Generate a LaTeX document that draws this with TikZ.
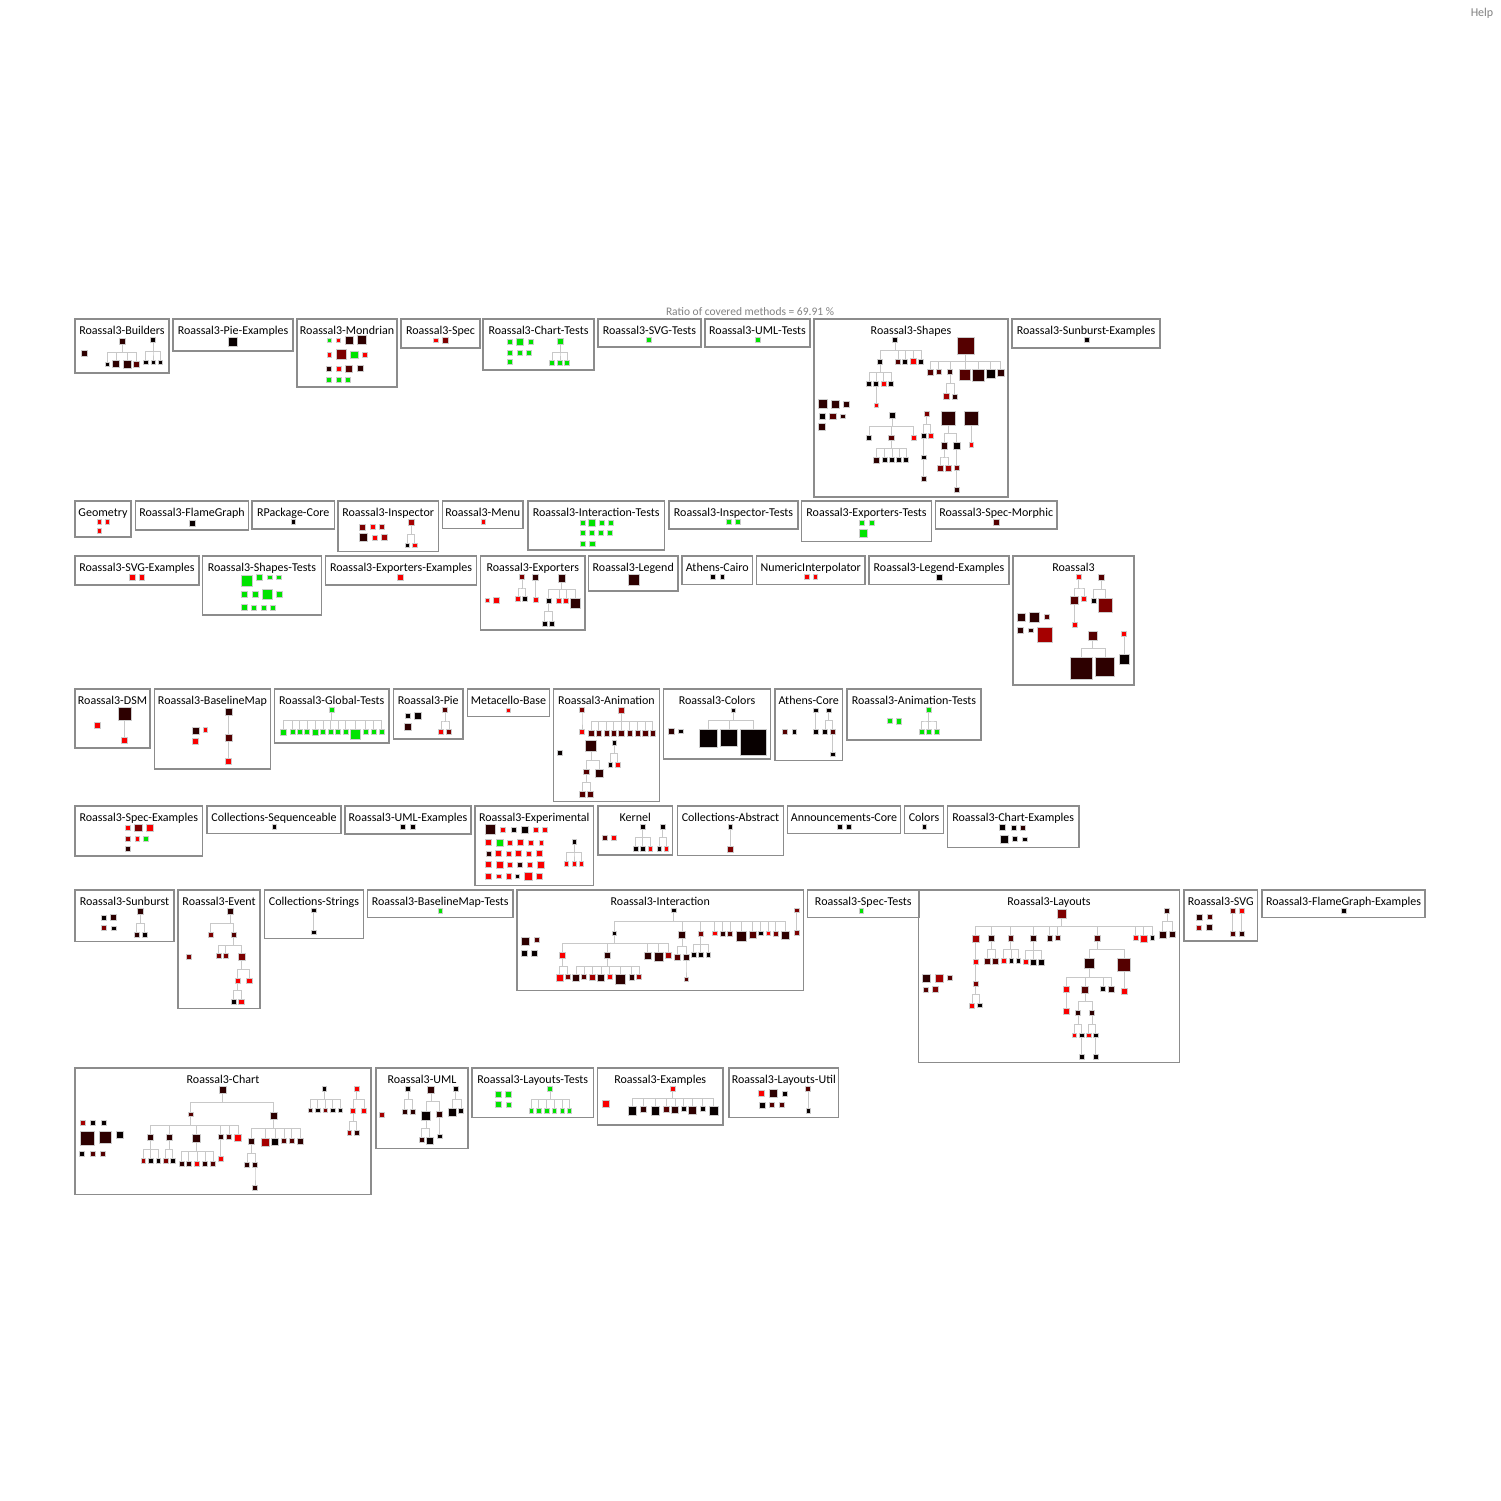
\documentclass[tikz,border=0pt]{standalone}
\usepackage{fontspec}
\setmainfont{Carlito}
\usetikzlibrary{calc,fit,positioning}
\definecolor{kk}{RGB}{8,0,0}
\definecolor{d1}{RGB}{45,0,0}
\definecolor{d2}{RGB}{85,0,0}
\definecolor{d3}{RGB}{125,0,0}
\definecolor{d4}{RGB}{165,0,0}
\definecolor{rr}{RGB}{250,0,0}
\definecolor{gg}{RGB}{0,228,0}
\definecolor{boxG}{RGB}{140,140,140}
\definecolor{edgeG}{RGB}{200,200,200}
\definecolor{txtG}{RGB}{130,130,130}
\newcommand{\pkg}[6]{%
  \coordinate (#1-a) at (#2,#3); \coordinate (#1-b) at (#4,#5);
  \node[pkgbox,fit=(#1-a)(#1-b)] (#1) {};
  \node[ttl] (#1-t) at ($(#1-a)!.5!(#1-b |- #1-a)+(0,15)$) {#6};}
\newcommand{\sq}[5]{\node[sqr,minimum size=#4,fill=#5] (#1) at (#2,#3) {};}
\newcommand{\row}[3]{\foreach \x/\s/\f [count=\i] in {#3}{\node[sqr,minimum size=\s,fill=\f] (#1\i) at (\x,#2) {};}}
\newcommand{\trow}[3]{\foreach \x/\s/\f [count=\i] in {#3}{\node[sqr,minimum size=\s,fill=\f,anchor=north] (#1\i) at (\x,#2) {};}}
\newcommand{\tr}[2]{\foreach \ch in {#2}{\draw[edge] (#1.south) |- ($(#1.south)!.5!(\ch.north)$) -| (\ch.north);}}
\newcommand{\trn}[3]{\foreach \k in {1,...,#3}{\draw[edge] (#1.south) |- ($(#1.south)!.5!(#2\k.north)$) -| (#2\k.north);}}

\begin{document}
\begin{tikzpicture}[x=1pt,y=-1pt,
  pkgbox/.style={draw=boxG,line width=1.4pt,inner sep=0pt,rectangle},
  ttl/.style={anchor=base,inner sep=0pt,font=\fontsize{12}{14}\selectfont},
  sqr/.style={rectangle,inner sep=0pt,draw=black!20,line width=0.5pt},
  edge/.style={draw=edgeG,line width=1pt}]
\fill[white] (0,0) rectangle (1500,1501);
\useasboundingbox (0,0) rectangle (1500,1501);
\node[txtG,font=\fontsize{12}{14}\selectfont] (help) at (1482,13) {Help};
\node[txtG,font=\fontsize{11.5}{13}\selectfont] (ratio) at (750,312) {Ratio of covered methods = 69.91 \%};

\pkg{bu}{75}{319}{169}{373}{Roassal3-Builders}
\sq{bu1}{84}{353}{6}{d1}
\sq{bu2}{122}{341}{6}{d1}
\row{bu2c}{364}{107/4.5/kk,116/7/d1,127/7.5/d1,136.5/6/d2}
\trn{bu2}{bu2c}{4}
\sq{bu3}{153}{340}{5}{kk}
\row{bu3c}{362}{145.5/4.5/kk,153/4.5/kk,160/4.5/kk}
\trn{bu3}{bu3c}{3}

\pkg{pe}{173}{319}{293}{351}{Roassal3-Pie-Examples}
\sq{pe1}{233}{342}{9}{kk}

\pkg{mo}{297}{319}{397}{387}{Roassal3-Mondrian}
\row{moa}{340}{329/4.5/gg,338/4.5/rr,349/7.5/d1,361.5/9/d1}
\row{mob}{354.5}{329/4.5/rr,341/10/d3,354/7.5/gg,365/5/rr}
\row{moc}{368.5}{329/5/d1,338.5/5/rr,349/7/d2,360/6/d1}
\row{mod}{379.5}{329/5/gg,338.5/5/gg,348/5/gg}

\pkg{sp}{401}{319}{480}{348}{Roassal3-Spec}
\row{spa}{340}{435.5/4.5/rr,445/5.5/d3}

\pkg{ct}{483}{319}{594}{370}{Roassal3-Chart-Tests}
\row{cta}{341.5}{510/5/gg,520/7/gg,530.5/5/gg}
\row{ctb}{352.5}{510/5/gg,519.5/5/gg,529/5/gg}
\sq{ctc}{510}{362}{5}{gg}
\sq{ctp}{560}{341}{6}{gg}
\row{ctk}{363}{552/5/gg,560/5/gg,567/5/gg}
\trn{ctp}{ctk}{3}

\pkg{svt}{598}{319}{701}{347}{Roassal3-SVG-Tests}
\sq{svt1}{649}{340}{5}{gg}
\pkg{umt}{705}{319}{810}{347}{Roassal3-UML-Tests}
\sq{umt1}{757.5}{340}{5}{gg}

\pkg{sh}{814}{319}{1008}{497}{Roassal3-Shapes}
\sq{sha}{895}{339.5}{5}{kk}
\row{shb}{361.5}{880/5/kk,898/5/d2,905/5/kk,913/6/rr,921/5/kk}
\trn{sha}{shb}{5}
\row{shc}{383.5}{869/5/kk,876/5/kk,883.5/5.5/rr,891/5/kk}
\trn{shb1}{shc}{4}
\sq{shd}{876}{405}{4.5}{rr}
\tr{shc2}{shd}
\sq{she}{965.5}{345.5}{16.5}{d2}
\trow{shf}{368.5}{930.5/6/d2,938.5/5.5/d2,950/5/d1,965/11/d2,978/12/d1,990.5/9/kk,1000.5/7/d1}
\trn{she}{shf}{7}
\row{shg}{396.5}{946.5/6/d4,954.5/5.5/d1}
\trn{shf3}{shg}{2}
\row{shl}{404}{823/9/d1,835/7.5/d1,846/6/d1}
\row{shm}{416}{822/6.5/kk,832.5/6.5/d2,842.5/4.5/d1}
\sq{shn}{822}{427}{7}{d1}
\sq{sho}{892}{415}{6.5}{kk}
\row{shp}{437.5}{869/5/kk,891/5.5/d2,913.5/5.5/rr}
\trn{sho}{shp}{3}
\row{shq}{460}{876.5/6/d1,884.5/5/kk,892/5/kk,899/5/kk,906/5/kk}
\trn{shp2}{shq}{5}
\sq{shr}{926.5}{413.5}{4.5}{d3}
\row{shs}{435.5}{923.5/5/kk,930.5/5/rr}
\trn{shr}{shs}{2}
\sq{sht}{923.5}{457}{4.5}{kk}
\tr{shs1}{sht}
\sq{shu}{923.5}{479}{5}{d1}
\tr{sht}{shu}
\sq{shv}{948}{418}{14}{d1}
\row{shw}{445.5}{944/6.5/d1,956.5/6.5/kk}
\trn{shv}{shw}{2}
\row{shx}{468}{940/5.5/d3,948/5.5/d4}
\trn{shw1}{shx}{2}
\sq{shy}{956.5}{468}{5}{d3}
\tr{shw2}{shy}
\sq{shz}{956.5}{490}{5}{d1}
\tr{shy}{shz}
\sq{sh6}{971}{418}{14}{d1}
\sq{sh7}{971}{444.5}{4.5}{rr}
\tr{sh6}{sh7}

\pkg{sbe}{1012}{319}{1160}{348}{Roassal3-Sunburst-Examples}
\sq{sbe1}{1087}{340}{5}{kk}

\pkg{ge}{75}{501}{131}{537}{Geometry}
\row{gea}{521.5}{99/4.5/rr,107/4.5/rr}
\sq{geb}{99}{530.5}{4.5}{rr}
\pkg{fg}{135.5}{501}{248.5}{530}{Roassal3-FlameGraph}
\sq{fg1}{192}{523}{6}{kk}
\pkg{rp}{252}{501}{334.5}{529}{RPackage-Core}
\sq{rp1}{293}{521.5}{4.5}{kk}
\pkg{isp}{338}{501}{438.5}{551.5}{Roassal3-Inspector}
\row{ispa}{527}{362.5/6/d3,372.5/5/rr,381.5/5/d4}
\row{ispb}{537.5}{363.5/8/d1,374.5/5/rr,384/6/d4}
\sq{ispr}{411}{522.5}{6}{d4}
\row{ispc}{545}{407/4.5/kk,414.5/4.5/rr}
\trn{ispr}{ispc}{2}
\pkg{me}{442.5}{501}{523}{528.5}{Roassal3-Menu}
\sq{me1}{483}{521.5}{4.5}{rr}
\pkg{it}{528}{501}{664.5}{550}{Roassal3-Interaction-Tests}
\row{ita}{522.5}{582.5/5.5/gg,591.5/7/gg,601.5/5/gg,611/5/gg}
\row{itb}{532.5}{582.5/5.5/gg,591.5/5/gg,600.5/5/gg,609.5/5/gg}
\row{itc}{543.5}{582.5/5.5/gg,592/5.5/gg}
\pkg{ist}{669}{501}{798}{529}{Roassal3-Inspector-Tests}
\row{ista}{521.5}{728.5/4.5/gg,737.5/4.5/gg}
\pkg{ext}{801.5}{501}{931.5}{541.5}{Roassal3-Exporters-Tests}
\row{exta}{522.5}{861.5/5/gg,871.5/5/gg}
\sq{extb}{863.5}{533.5}{8}{gg}
\pkg{spm}{935.5}{501}{1057}{529}{Roassal3-Spec-Morphic}
\sq{spm1}{996}{522.5}{6}{d2}

\pkg{sve}{75}{556}{199}{585}{Roassal3-SVG-Examples}
\row{svea}{577}{132/6/rr,141.5/5.5/rr}
\pkg{sts}{202.5}{556}{321.5}{615}{Roassal3-Shapes-Tests}
\sq{stsb}{246.5}{580.5}{11}{gg}
\row{stsc}{577}{259.5/6/gg,269.5/4.5/gg,278.5/4.5/gg}
\row{stsd}{594}{244/6/gg,255/6/gg,267/10/gg,279.5/6/gg}
\row{stse}{607.5}{244.5/6/gg,254/5/gg,263.5/5/gg,273/5/gg}
\pkg{exe}{325.5}{556}{476.5}{585}{Roassal3-Exporters-Examples}
\sq{exe1}{400.5}{577.5}{6}{rr}
\pkg{ex}{480.5}{556}{585}{630}{Roassal3-Exporters}
\row{exa}{600}{487/4.5/rr,496/5.5/rr}
\sq{exb}{522}{577}{5}{d3}
\row{exc}{599}{518/5/rr,525/5/kk}
\trn{exb}{exc}{2}
\sq{exd}{535.5}{577.5}{6}{d1}
\sq{exf}{535.5}{600}{5}{rr}
\tr{exd}{exf}
\sq{exg}{561.5}{578}{7.5}{d1}
\trow{exh}{597.5}{548.5/5/kk,559/5/rr,566/5/rr,575.5/10/d1}
\trn{exg}{exh}{4}
\row{exi}{623.5}{544.5/5/kk,552/5/kk}
\trn{exh1}{exi}{2}
\pkg{le}{588.5}{556}{678}{591}{Roassal3-Legend}
\sq{le1}{633.5}{580}{11}{d1}
\pkg{ac}{682}{556}{752.5}{584.5}{Athens-Cairo}
\row{aca}{576.5}{712.5/4.5/kk,722/4.5/kk}
\pkg{ni}{756.5}{556}{865}{584.5}{NumericInterpolator}
\row{nia}{576.5}{806.5/4.5/rr,815/4.5/rr}
\pkg{lee}{869}{556}{1009}{584.5}{Roassal3-Legend-Examples}
\sq{lee1}{939}{577.5}{6}{kk}
\pkg{ro}{1013}{556}{1134}{685}{Roassal3}
\row{roa}{617}{1021.5/8/d1,1034.5/10/d1,1046.5/5/d2}
\row{rob}{630}{1020.5/6/d1,1030.5/4.5/d1}
\sq{roc}{1045}{634.5}{15}{d4}
\sq{rod}{1078.5}{577}{5}{rr}
\sq{roe}{1074.5}{600.5}{8}{d2}
\sq{rof}{1084}{599}{5}{rr}
\tr{rod}{roe,rof}
\sq{rog}{1074.5}{624.5}{4.5}{rr}
\tr{roe}{rog}
\sq{roh}{1101.5}{577.5}{6}{d2}
\sq{roi}{1093.5}{601}{5}{kk}
\sq{roj}{1105}{605.5}{14}{d3}
\tr{roh}{roi,roj}
\sq{rok}{1092.5}{635.5}{9}{d2}
\trow{rol}{657}{1081.5/22/d1,1105/19/d1}
\trn{rok}{rol}{2}
\sq{rom}{1124}{634}{5}{rr}
\sq{ron}{1124}{659}{10}{kk}
\tr{rom}{ron}

\pkg{ds}{75}{689}{150}{748}{Roassal3-DSM}
\sq{ds1}{97.5}{725.5}{6}{rr}
\sq{ds2}{124.5}{714}{13}{d1}
\sq{ds3}{124.5}{740.5}{6}{rr}
\tr{ds2}{ds3}
\pkg{bm}{154.5}{689}{270.5}{769}{Roassal3-BaselineMap}
\sq{bm1}{195.5}{731}{7}{d1}
\sq{bm2}{205}{729.5}{4.5}{rr}
\sq{bm3}{195}{741.5}{6}{rr}
\sq{bm4}{228.5}{711.5}{7}{d1}
\sq{bm5}{228.5}{737.5}{7}{d2}
\sq{bm6}{228.5}{761.5}{6}{rr}
\tr{bm4}{bm5}
\tr{bm5}{bm6}
\pkg{gt}{274.5}{689}{389}{743}{Roassal3-Global-Tests}
\sq{gtr}{331.5}{710}{5}{gg}
\trow{gtc}{729}{283.5/6/gg,292.5/5/gg,299.5/5/gg,307/5/gg,315/6/gg,323/5/gg,330.5/5/gg,338/5/gg,345.5/5/gg,355/10/gg,365.5/5/gg,373.5/5/gg,381.5/5/gg}
\trn{gtr}{gtc}{13}
\pkg{pie}{393.5}{689}{463}{739}{Roassal3-Pie}
\row{piea}{715.5}{408/5/kk,418/7/kk}
\sq{pieb}{408}{726.5}{7}{d1}
\sq{pier}{445}{710}{5}{d2}
\row{piec}{732}{441/5/rr,449/5/d3}
\trn{pier}{piec}{2}
\pkg{mb}{467.5}{689}{549.5}{716.5}{Metacello-Base}
\sq{mb1}{508}{710}{4.5}{rr}
\pkg{an}{553.5}{689}{659.5}{801.5}{Roassal3-Animation}
\sq{an1}{560}{752.5}{5}{kk}
\sq{ana}{582}{710}{5}{d3}
\sq{anb}{582}{732}{5}{rr}
\tr{ana}{anb}
\sq{anc}{621.5}{710}{6}{d4}
\row{anx}{733}{591/5.5/d2,598.5/5.5/d2,606.5/5.5/d2,613.5/5.5/d2,621.5/6/d2,629.5/5.5/d2,637.5/5.5/d2,645/5.5/d2,652.5/5.5/d2}
\trn{anc}{anx}{9}
\sq{ane}{591}{746}{11}{d1}
\trow{anf}{768.5}{586/5.5/d2,599.5/8/d1}
\trn{ane}{anf}{2}
\row{ang}{794}{582/5.5/d2,590/6/d2}
\trn{anf1}{ang}{2}
\sq{anh}{614}{742.5}{4.5}{kk}
\row{ani}{764.5}{610/4.5/kk,617.5/5/rr}
\trn{anh}{ani}{2}
\pkg{rc}{663.5}{689}{770.5}{759}{Roassal3-Colors}
\row{rca}{731}{671/6/d1,680.5/4.5/kk}
\sq{rcr}{733}{710}{4.5}{kk}
\trow{rcb}{729}{708.5/18/kk,729/17/kk,753.5/26/kk}
\trn{rcr}{rcb}{3}
\pkg{atc}{775}{689}{842.5}{760.5}{Athens-Core}
\row{atca}{731.5}{784.5/5/d2,794/4.5/kk}
\sq{atcb}{815.5}{710}{4.5}{kk}
\sq{atcc}{815.5}{731.5}{5}{kk}
\tr{atcb}{atcc}
\sq{atcd}{828.5}{710}{4.5}{kk}
\row{atce}{732}{825/5/kk,832.5/5/d2}
\trn{atcd}{atce}{2}
\sq{atcf}{832.5}{754}{4.5}{kk}
\tr{atce2}{atcf}
\pkg{ant}{847}{689}{981}{740}{Roassal3-Animation-Tests}
\row{anta}{721}{889.5/5/gg,898.5/5.5/gg}
\sq{antr}{928.5}{710}{5}{gg}
\row{antc}{732}{921.5/5/gg,928.5/5/gg,936.5/5/gg}
\trn{antr}{antc}{3}

\pkg{spe}{75}{806}{202.5}{856}{Roassal3-Spec-Examples}
\row{spea}{827.5}{127.5/5/rr,138/7.5/d3,149.5/6.5/rr}
\row{speb}{838.5}{127.5/5.5/d4,137/4.5/rr,146/5/gg}
\sq{spec}{127.5}{849}{5}{d1}
\pkg{cs}{207}{806}{341}{833.5}{Collections-Sequenceable}
\sq{cs1}{274}{826.5}{4.5}{kk}
\pkg{ue}{345}{806}{471}{834}{Roassal3-UML-Examples}
\row{uea}{826.5}{402.5/5/kk,412.5/5/kk}
\pkg{xp}{475}{806}{593.5}{885.5}{Roassal3-Experimental}
\row{xpa}{829.5}{490/10/d1,503/5/rr,513.5/5.5/kk,524.5/7/kk,535.5/5/rr,544.5/4.5/rr}
\row{xpb}{842.5}{488.5/6/rr,499.5/7/gg,510/5/rr,520/6/rr,530.5/5/rr,541/4.5/rr}
\row{xpc}{853.5}{488.5/5/d1,498/6/rr,508.5/5/rr,518.5/6/rr,528.5/5/rr,539/6/rr}
\row{xpd}{864.5}{488.5/6/rr,499.5/7/rr,510/5/rr,519.5/5/d1,530/5/rr,540.5/7/rr}
\row{xpe}{876}{488.5/6/rr,498.5/4.5/rr,508.5/5.5/rr,517.5/4/kk,528/8/rr,539/5.5/rr}
\sq{xpr}{574}{841.5}{4.5}{kk}
\row{xpf}{863.5}{566/4.5/rr,574/4.5/rr,581/4.5/rr}
\trn{xpr}{xpf}{3}
\pkg{ke}{598}{806}{672.5}{855}{Kernel}
\row{kea}{837.5}{604.5/5/d2,613.5/5/rr}
\sq{keb}{642.5}{826.5}{4.5}{kk}
\row{kec}{848.5}{635.5/4.5/kk,642.5/4.5/kk,650/4.5/rr}
\trn{keb}{kec}{3}
\sq{ked}{662.5}{826.5}{4.5}{kk}
\row{kee}{848.5}{659/4.5/kk,666/4.5/rr}
\trn{ked}{kee}{2}
\pkg{ca}{677.5}{806}{783.5}{855.5}{Collections-Abstract}
\sq{ca1}{730}{826.5}{4.5}{kk}
\sq{ca2}{730}{849}{5.5}{d3}
\tr{ca1}{ca2}
\pkg{ann}{787.5}{806}{900.5}{833.5}{Announcements-Core}
\row{anna}{826.5}{839.5/4.5/kk,848.5/4.5/kk}
\pkg{co}{904.5}{806}{943.5}{833.5}{Colors}
\sq{co1}{924}{826.5}{4.5}{kk}
\pkg{che}{947.5}{806}{1079}{847.5}{Roassal3-Chart-Examples}
\row{chea}{827.5}{1002.5/6/kk,1013.5/5/kk,1023/5/d1}
\row{cheb}{839}{1004/8/kk,1015/5/kk,1024.5/4.5/kk}

\pkg{sb}{75}{890}{174}{941.5}{Roassal3-Sunburst}
\row{sba}{917.5}{103.5/4.5/kk,113.5/6/d1}
\row{sbb}{928}{103.5/5/d3,113.5/4.5/kk}
\sq{sbr}{140.5}{911.5}{6}{d1}
\row{sbc}{934.5}{136.5/5.5/d1,144.5/5.5/kk}
\trn{sbr}{sbc}{2}
\pkg{ev}{178}{890}{260}{1008.5}{Roassal3-Event}
\sq{ev0}{188.5}{956.5}{5}{d3}
\sq{eva}{230}{911.5}{6}{d1}
\row{evb}{934.5}{210.5/5/d3,233.5/5/d2}
\trn{eva}{evb}{2}
\trow{evc}{953}{218.5/5/d3,225.5/5/d3,241.5/7/d3}
\trn{evb2}{evc}{3}
\trow{evd}{977.5}{237.5/5/rr,249/5.5/rr}
\trn{evc3}{evd}{2}
\trow{eve}{998.5}{233.5/5/kk,241/5.5/rr}
\trn{evd1}{eve}{2}
\pkg{cst}{264.5}{890}{363.5}{938.5}{Collections-Strings}
\sq{cst1}{313.5}{910}{4.5}{kk}
\sq{cst2}{313.5}{932}{4.5}{kk}
\tr{cst1}{cst2}
\pkg{bmt}{367.5}{890}{513}{917.5}{Roassal3-BaselineMap-Tests}
\sq{bmt1}{440}{910.5}{4.5}{gg}
\pkg{ia}{517}{890}{803.5}{990.5}{Roassal3-Interaction}
\sq{ia1}{525}{941.5}{8}{d1}
\sq{ia2}{536.5}{940}{5}{d2}
\row{iab}{953.5}{524/6/kk,534/6/kk}
\sq{iar}{673.5}{910}{4.5}{kk}
\trow{iac}{930.5}{614/4.5/kk,682/7/d1,700.5/5.5/d3,714.5/4.5/rr,722.5/5/d1,730/5/d2,741/10/d1,752.5/7/d2,760.5/4.5/kk,768/4.5/rr,775.5/5/d3,785.5/8/d1}
\trn{iar}{iac}{12}
\trow{iad}{951.5}{562.5/6/rr,607/6/d1,647.5/7/d1,658.5/9/d1,668.5/6/d4}
\trn{iac1}{iad}{5}
\trow{iae}{974}{559.5/7/rr,567.5/5/d3}
\trn{iad1}{iae}{2}
\trow{iaf}{974}{576/7/d1,584/5/d2,592/6/d4,601/7/d1,609.5/5/rr,620.5/10/d1,631.5/5.5/d1,639/5/d4}
\trn{iad2}{iaf}{8}
\trow{iag}{954}{677.5/6/d2,686/5.5/d1}
\trn{iac2}{iag}{2}
\sq{iah}{686}{979}{4.5}{d2}
\tr{iag2}{iah}
\trow{iai}{952}{693.5/4.5/kk,700.5/4.5/kk,708/4.5/kk}
\trn{iac3}{iai}{3}
\sq{iaj}{796.5}{910}{4.5}{d3}
\sq{iak}{796.5}{932.5}{4.5}{d3}
\tr{iaj}{iak}
\pkg{spt}{807.5}{890}{919}{917.5}{Roassal3-Spec-Tests}
\sq{spt1}{861}{910.5}{4.5}{gg}
\pkg{la}{918.5}{890}{1179.5}{1062.5}{Roassal3-Layouts}
\row{laa}{978}{926.5/8/d1,939/8/d4,949.5/5/d2}
\row{lab}{989.5}{925.5/5/d2,935.5/6/d3}
\sq{lar}{1061.5}{913.5}{9}{d3}
\trow{lac}{935}{975.5/7/d4,991/6/d1,1010.5/5.5/d2,1033.5/6/d1,1049.5/5.5/d1,1057.5/5/d2,1097/6/d2,1135.5/4.5/rr,1143.5/7/rr,1152/4.5/kk}
\trn{lar}{lac}{10}
\sq{lad}{975.5}{961.5}{4.5}{rr}
\tr{lac1}{lad}
\sq{lae}{975.5}{983.5}{4.5}{d3}
\tr{lad}{lae}
\trow{laf}{1002.5}{972/5/rr,979.5/4.5/kk}
\trn{lae}{laf}{2}
\trow{lag}{958}{987/6/d2,995.5/6/d2}
\trn{lac2}{lag}{2}
\trow{lah}{958}{1003.5/5/rr,1011/4.5/kk,1018/4.5/kk}
\trn{lac3}{lah}{3}
\trow{lai}{958.5}{1025.5/5/rr,1033.5/6/kk,1041.5/6/kk}
\trn{lac4}{lai}{3}
\trow{laj}{958}{1089/10/d1,1124/13/d2}
\trn{lac7}{laj}{2}
\trow{lak}{985.5}{1066.5/6/rr,1085/7/d2,1103/5/kk,1111.5/6/d1}
\trn{laj1}{lak}{4}
\sq{lal}{1066.5}{1011.5}{6}{rr}
\tr{lak1}{lal}
\trow{lam}{1010}{1078/5/d1,1092/5/d1}
\trn{lak2}{lam}{2}
\trow{lan}{1032.5}{1074/4.5/rr,1081.5/4.5/kk}
\trn{lam1}{lan}{2}
\sq{lao}{1081.5}{1056.5}{4.5}{kk}
\tr{lan2}{lao}
\trow{lap}{1032.5}{1088.5/4.5/rr,1095.5/4.5/kk}
\trn{lam2}{lap}{2}
\sq{laq}{1095.5}{1056.5}{4.5}{kk}
\tr{lap2}{laq}
\sq{las}{1124}{991.5}{6}{rr}
\tr{laj2}{las}
\sq{lat}{1167}{910.5}{5}{d1}
\trow{lau}{930.5}{1162.5/7/d1,1172.5/6/d1}
\trn{lat}{lau}{2}
\pkg{sg}{1184}{890}{1257.5}{941}{Roassal3-SVG}
\row{sga}{917}{1199.5/6/d1,1209.5/5/d2}
\row{sgb}{927.5}{1199/5/d4,1209.5/6/d1}
\sq{sgc}{1232.5}{910.5}{5}{d3}
\sq{sgd}{1232.5}{933.5}{5}{d2}
\tr{sgc}{sgd}
\sq{sge}{1241.5}{910.5}{5}{rr}
\sq{sgf}{1241.5}{933.5}{5.5}{d1}
\tr{sge}{sgf}
\pkg{fge}{1262}{890}{1425}{917.5}{Roassal3-FlameGraph-Examples}
\sq{fge1}{1343.5}{910.5}{4.5}{kk}

\pkg{cr}{75}{1068}{371}{1194.5}{Roassal3-Chart}
\row{cra}{1123}{82.5/5/d4,93/5/kk,104/5/kk}
\sq{crb}{87}{1138.5}{14}{d1}
\sq{crc}{105}{1137.5}{12}{d1}
\sq{crd}{120}{1134.5}{7}{kk}
\row{cre}{1153.5}{82/5/kk,92.5/5/d2,103/5/d2}
\sq{crr}{222.5}{1090}{7}{d1}
\trow{crf}{1111.5}{190.5/4.5/d2,273.5/7/d1}
\trn{crr}{crf}{2}
\trow{crg}{1134}{150/6/d1,169/5.5/d1,196.5/8/d1,220.5/5/d1,229/5/d2,238/7/rr}
\trn{crf1}{crg}{6}
\trow{crh}{1158}{143/4.5/d4,150.5/4.5/kk,158/4.5/kk}
\trn{crg1}{crh}{3}
\trow{cri}{1158}{165.5/4.5/d3,172.5/4.5/kk}
\trn{crg2}{cri}{2}
\trow{crj}{1161}{181.5/5/d1,188.5/5/d1,197/5/rr,205/5/d1,213/5/d2}
\trn{crg3}{crj}{5}
\sq{crk}{220.5}{1158.5}{5}{rr}
\tr{crg4}{crk}
\trow{crl}{1138}{251.5/6/d1,265/8/d4,275/7/kk,284/5/d2,291.5/5/d2,300/6/d1}
\trn{crf2}{crl}{6}
\trow{crm}{1161.5}{247/5/d1,255/5/d1}
\trn{crl1}{crm}{2}
\sq{crn}{255}{1187.5}{5}{d1}
\tr{crm2}{crn}
\sq{cro}{324}{1088.5}{4.5}{kk}
\trow{crp}{1107.5}{310/4.5/d1,317.5/4.5/kk,325/4.5/d3,332.5/4.5/kk,340/4.5/kk}
\trn{cro}{crp}{5}
\sq{crq}{356.5}{1088.5}{5}{rr}
\trow{crs}{1107.5}{353/5/rr,364/5/rr}
\trn{crq}{crs}{2}
\trow{crt}{1130}{349/4.5/d4,356.5/4.5/d1}
\trn{crs1}{crt}{2}
\pkg{um}{376}{1068}{468}{1148.5}{Roassal3-UML}
\sq{um1}{381.5}{1115}{5}{d4}
\sq{uma}{408}{1088.5}{5}{kk}
\trow{umb}{1108.5}{404.5/5/d1,412.5/5/d1}
\trn{uma}{umb}{2}
\sq{umc}{431}{1089.5}{7}{d1}
\trow{umd}{1110.5}{426/9/kk,439.5/6/d1}
\trn{umc}{umd}{2}
\trow{ume}{1137}{421.5/5/d1,429.5/7/kk}
\trn{umd1}{ume}{2}
\sq{umf}{439.5}{1136}{4.5}{kk}
\tr{umd2}{umf}
\sq{umg}{455.5}{1088.5}{4.5}{kk}
\trow{umh}{1107.5}{452/8/kk,461/5/kk}
\trn{umg}{umh}{2}
\pkg{lt}{472}{1068}{593.5}{1117.5}{Roassal3-Layouts-Tests}
\row{lta}{1094.5}{498/6/gg,508.5/6/gg}
\row{ltb}{1104.5}{498/6/gg,508.5/5/gg}
\sq{ltr}{550}{1088.5}{5}{gg}
\trow{ltc}{1108}{531/4.5/gg,538.5/4.5/gg,546.5/4.5/gg,554/4.5/gg,562/4.5/gg,569/4.5/gg}
\trn{ltr}{ltc}{6}
\pkg{eg}{597.5}{1068}{723}{1125}{Roassal3-Examples}
\sq{eg1}{605.5}{1103.5}{7}{rr}
\sq{egr}{672.5}{1088.5}{5}{rr}
\trow{egc}{1106}{632/8.5/kk,643.5/6/d1,655/8.5/kk,666.5/6/d2,675/7/d1,683.5/5/kk,692.5/8/d1,702.5/5/kk,713.5/9/kk}
\trn{egr}{egc}{9}
\pkg{lu}{729}{1068}{838.5}{1117.5}{Roassal3-Layouts-Util}
\row{lua}{1093.5}{761.5/6/rr,773.5/8/d1,785/5/kk}
\row{lub}{1105}{762/6/kk,772/5/d2,781.5/5/d2}
\sq{lur}{808}{1088.5}{5}{d2}
\sq{luc}{808}{1110.5}{4.5}{kk}
\tr{lur}{luc}
\end{tikzpicture}
\end{document}
